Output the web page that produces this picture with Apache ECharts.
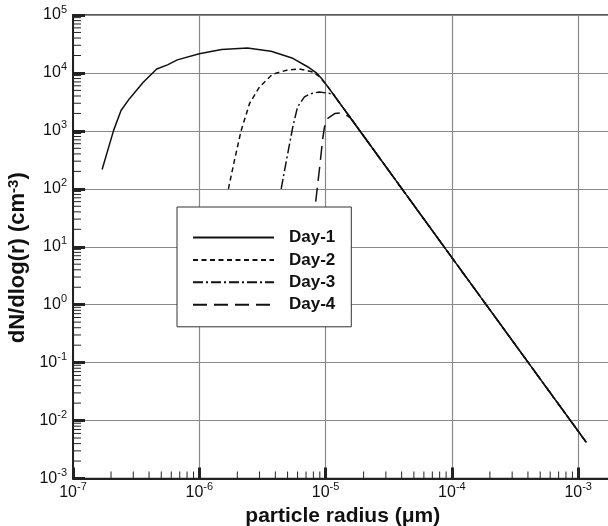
<!DOCTYPE html>
<html>
<head>
<meta charset="utf-8">
<script src="https://cdn.jsdelivr.net/npm/echarts@6/dist/echarts.min.js"></script>
<style>
html, body { margin: 0; padding: 0; background: #fff; }
#chart { width: 608px; height: 526px; }
</style>
</head>
<body>
<div id="chart"></div>
<script>
// radius (um) and dN/dlog(r)
var day1R = [1.7e-7, 2.1e-7, 2.4e-7, 2.8e-7, 3.6e-7, 4.6e-7, 5.6e-7, 6.7e-7, 1e-6, 1.5e-6, 2.4e-6, 3.7e-6, 5.5e-6, 7.2e-6, 8.5e-6, 9.3e-6, 1.04e-5];
var day1N = [216, 1030, 2250, 3600, 6900, 11700, 13800, 16800, 21500, 25400, 27000, 23600, 17900, 12800, 9900, 8000, 5800];
var day2R = [1.7e-6, 1.9e-6, 2.14e-6, 2.5e-6, 3e-6, 3.8e-6, 4.9e-6, 6.2e-6, 7.9e-6, 8.9e-6, 1.04e-5];
var day2N = [100, 313, 1000, 2970, 5740, 9500, 11100, 11700, 10400, 8700, 5800];
var day3R = [4.45e-6, 4.9e-6, 5.5e-6, 6e-6, 6.8e-6, 7.5e-6, 8.9e-6, 1.08e-5, 1.15e-5];
var day3N = [100, 313, 1170, 2600, 3860, 4350, 4700, 4420, 4290];
var day4R = [8.35e-6, 9.0e-6, 9.5e-6, 9.8e-6, 1.04e-5, 1.18e-5, 1.33e-5, 1.5e-5, 1.58e-5];
var day4N = [60, 250, 750, 1170, 1640, 1990, 2040, 1800, 1650];
// common power-law tail all curves fall onto
var tailR = [2e-5, 1e-4, 1.16e-3];
var tailN = [815, 6.5, 0.0042];

var seriesNames = ['Day-1', 'Day-2', 'Day-3', 'Day-4'];
var dashes = ['solid', [5, 3.5], [10, 3, 2, 3], [14, 7]];
var minorMult = [2, 3, 4, 5, 6, 7, 8, 9];
var xDecades = [-7, -6, -5, -4, -3];
var yDecades = [-3, -2, -1, 0, 1, 2, 3, 4];

var FONT = 'Arial, "Liberation Sans", Helvetica, sans-serif';
var INK = '#111';

function pairs(r, n) {
    var out = [];
    for (var i = 0; i < r.length; i++) out.push([r[i], n[i]]);
    for (var j = 0; j < tailR.length; j++) out.push([tailR[j], tailN[j]]);
    return out;
}

function minorValues(decades) {
    var out = [];
    decades.forEach(function(d) {
        minorMult.forEach(function(k) { out.push(k * Math.pow(10, d)); });
    });
    return out;
}

function powLabel(v) {
    var e = Math.round(Math.log10(v));
    return '{b|10}{s|' + e + '}';
}

var labelRich = {
    b: { fontSize: 16, fontFamily: FONT, color: INK, padding: [3, 0, 3, 0] },
    s: { fontSize: 11, fontFamily: FONT, color: INK, verticalAlign: 'top' }
};

var allData = [pairs(day1R, day1N), pairs(day2R, day2N), pairs(day3R, day3N), pairs(day4R, day4N)];

var series = seriesNames.map(function(name, i) {
    return {
        name: name,
        type: 'line',
        data: allData[i],
        showSymbol: false,
        symbol: 'none',
        smooth: false,
        lineStyle: { color: INK, width: 1.5, type: dashes[i] },
        itemStyle: { color: INK },
        z: 3
    };
});

// minor ticks at 2..9 of each decade, placed through the axes
series.push({
    type: 'custom',
    silent: true,
    z: 4,
    data: minorValues(xDecades).map(function(v) { return [v, 1e-3]; }),
    renderItem: function(params, api) {
        var p = api.coord([api.value(0), api.value(1)]);
        return { type: 'line', shape: { x1: p[0], y1: p[1], x2: p[0], y2: p[1] - 7 }, style: { stroke: '#222', lineWidth: 1 } };
    }
});
series.push({
    type: 'custom',
    silent: true,
    z: 4,
    data: minorValues(yDecades).map(function(v) { return [1e-7, v]; }),
    renderItem: function(params, api) {
        var p = api.coord([api.value(0), api.value(1)]);
        return { type: 'line', shape: { x1: p[0], y1: p[1], x2: p[0] + 8, y2: p[1] }, style: { stroke: '#222', lineWidth: 1 } };
    }
});

var chart = echarts.init(document.getElementById('chart'), null, { renderer: 'canvas' });
chart.setOption({
    animation: false,
    backgroundColor: '#fff',
    grid: {
        left: 73,
        top: 15,
        bottom: 47.5,
        right: -96.5,
        show: true,
        borderColor: '#222',
        borderWidth: 1.5,
        containLabel: false,
        outerBoundsMode: 'none'
    },
    legend: {
        data: seriesNames,
        orient: 'vertical',
        left: 177,
        top: 207,
        padding: [22, 16, 13.6, 15],
        itemWidth: 81,
        itemHeight: 14,
        itemGap: 5.4,
        backgroundColor: '#fff',
        borderColor: '#333',
        borderWidth: 1,
        selectedMode: false,
        itemStyle: { opacity: 0 },
        textStyle: { fontFamily: FONT, fontSize: 17, fontWeight: 'bold', color: INK, lineHeight: 14, padding: [0, 0, 0, 10] }
    },
    xAxis: {
        type: 'log',
        logBase: 10,
        min: 1e-7,
        max: 1e-2,
        splitNumber: 5,
        name: 'particle radius (\u03bcm)',
        nameLocation: 'middle',
        nameGap: 22,
        nameTextStyle: { fontFamily: FONT, fontSize: 21, fontWeight: 'bold', color: INK, padding: [0, 92, 0, 0] },
        axisLine: { show: true, lineStyle: { color: '#222', width: 2 } },
        axisTick: { show: true, inside: true, length: 11, lineStyle: { color: '#222', width: 3 } },
        minorTick: { show: false },
        axisLabel: { formatter: powLabel, rich: labelRich, margin: 3 },
        splitLine: { show: true, lineStyle: { color: '#8a8a8a', width: 1.2 } }
    },
    yAxis: {
        type: 'log',
        logBase: 10,
        min: 1e-3,
        max: 1e5,
        splitNumber: 8,
        name: 'dN/dlog(r) (cm{s|-3})',
        nameLocation: 'middle',
        nameGap: 38,
        nameRotate: 90,
        nameTextStyle: {
            fontFamily: FONT, fontSize: 22, fontWeight: 'bold', color: INK,
            padding: [0, 22, 0, 0],
            rich: { s: { fontFamily: FONT, fontSize: 15, fontWeight: 'bold', color: INK, verticalAlign: 'top' } }
        },
        axisLine: { show: true, lineStyle: { color: '#222', width: 2 } },
        axisTick: { show: true, inside: true, length: 12, lineStyle: { color: '#222', width: 3 } },
        minorTick: { show: false },
        axisLabel: { formatter: powLabel, rich: labelRich, margin: 6 },
        splitLine: { show: true, lineStyle: { color: '#8a8a8a', width: 1.2 } }
    },
    series: series
});
</script>
</body>
</html>
